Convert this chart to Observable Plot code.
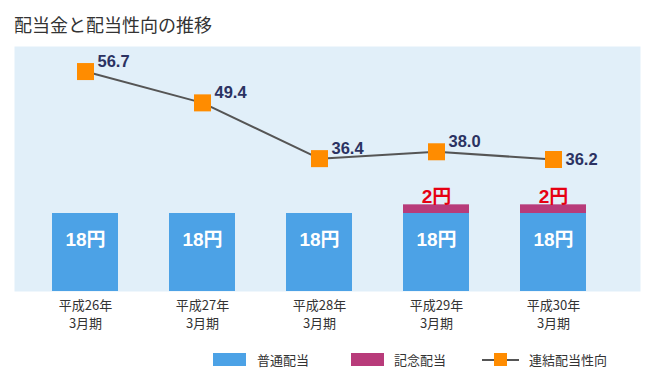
<!DOCTYPE html>
<html>
<head>
<meta charset="utf-8">
<script src="https://cdn.jsdelivr.net/npm/d3@7"></script>
<script src="https://cdn.jsdelivr.net/npm/@observablehq/plot@0.6"></script>
<style>
  body { margin: 0; background: #fff; }
  #wrap { position: relative; width: 660px; height: 390px; font-family: "Liberation Sans", "Noto Sans CJK JP", sans-serif; color: #333; }
  #title { position: absolute; left: 14px; top: 15px; font-family: "Noto Sans CJK JP", sans-serif; font-size: 18px; line-height: 1; color: #333; white-space: nowrap; }
  #chart { position: absolute; left: 0; top: 46px; width: 660px; height: 290px; }
  #chart svg { position: absolute; left: 0; top: 0; }
  .leg { position: absolute; font-family: "Noto Sans CJK JP", sans-serif; font-size: 13px; line-height: 1; color: #333; white-space: nowrap; }
</style>
</head>
<body>
<div id="wrap">
  <div id="title">配当金と配当性向の推移</div>
  <div id="chart"></div>
  <div id="legend"></div>
</div>
<script>
const periods = ["平成26年\n3月期", "平成27年\n3月期", "平成28年\n3月期", "平成29年\n3月期", "平成30年\n3月期"];
const regularDividend = [18, 18, 18, 18, 18];
const commemorativeDividend = [0, 0, 0, 2, 2];
const payoutRatio = [56.7, 49.4, 36.4, 38.0, 36.2];
const seriesNames = ["普通配当", "記念配当", "連結配当性向"];
const colors = ["#4ca2e6", "#b83b7a", "#ff8c00"];

const rows = periods.flatMap((p, i) => [
  {period: p, type: seriesNames[0], value: regularDividend[i]},
  {period: p, type: seriesNames[1], value: commemorativeDividend[i]}
]).filter(d => d.value > 0);
const regRows = periods.map((p, i) => ({period: p, value: regularDividend[i]}));
const comRows = periods.map((p, i) => ({period: p, value: commemorativeDividend[i], total: regularDividend[i] + commemorativeDividend[i]})).filter(d => d.value > 0);
const ratioRows = periods.map((p, i) => ({period: p, value: payoutRatio[i], i}));

const font = "Liberation Sans, Arial, Noto Sans CJK JP, sans-serif";
const xScale = {type: "band", domain: periods, range: [26.5, 611.5], paddingInner: 0.436, paddingOuter: 0.218};
const common = {width: 660, height: 290, marginTop: 0, marginBottom: 45, marginLeft: 14, marginRight: 20};

const barPlot = Plot.plot({
  ...common,
  x: {...xScale, label: null},
  y: {domain: [0, 56.54], axis: null},
  color: {domain: seriesNames.slice(0, 2), range: colors.slice(0, 2)},
  style: {fontFamily: font, background: "transparent", color: "#333"},
  marks: [
    Plot.frame({fill: "#e1eff9", stroke: null}),
    Plot.barY(rows, {x: "period", y: "value", fill: "type"}),
    Plot.text(regRows, {x: "period", y: "value", text: d => d.value + "円", fill: "#fff", fontSize: 19, fontWeight: "bold", fontFamily: font, dy: 26}),
    Plot.text(comRows, {x: "period", y: "total", text: d => d.value + "円", fill: "#e60012", fontSize: 19, fontWeight: "bold", fontFamily: font, dy: -8}),
    Plot.axisX({tickSize: 0, tickPadding: 6, fontSize: 13, lineHeight: 1.35, fill: "#333", fontFamily: "Noto Sans CJK JP, sans-serif", label: null})
  ]
});

const linePlot = Plot.plot({
  ...common,
  x: {...xScale, axis: null},
  y: {domain: [5.43, 62.54], axis: null},
  style: {fontFamily: font, background: "transparent"},
  marks: [
    Plot.line(ratioRows, {x: "period", y: "value", stroke: "#555", strokeWidth: 2}),
    Plot.dot(ratioRows, {x: "period", y: "value", symbol: "square", r: 9.6, fill: colors[2], stroke: null}),
    Plot.text(ratioRows.filter(d => d.i < 4), {x: "period", y: "value", text: d => d.value.toFixed(1), textAnchor: "start", dx: 12, dy: -10, fontSize: 16.5, fontWeight: "bold", fontFamily: font, fill: "#2b3262"}),
    Plot.text(ratioRows.filter(d => d.i === 4), {x: "period", y: "value", text: d => d.value.toFixed(1), textAnchor: "start", dx: 12, dy: 0, fontSize: 16.5, fontWeight: "bold", fontFamily: font, fill: "#2b3262"})
  ]
});

const chart = document.getElementById("chart");
chart.appendChild(barPlot);
chart.appendChild(linePlot);

// legend
const legend = document.getElementById("legend");
function add(html) { legend.insertAdjacentHTML("beforeend", html); }
add(`<div style="position:absolute;left:213px;top:353px;width:33px;height:13px;background:${colors[0]}"></div>`);
add(`<div class="leg" style="left:257px;top:353px">${seriesNames[0]}</div>`);
add(`<div style="position:absolute;left:351px;top:353px;width:33px;height:13px;background:${colors[1]}"></div>`);
add(`<div class="leg" style="left:394px;top:353px">${seriesNames[1]}</div>`);
add(`<div style="position:absolute;left:482px;top:359px;width:37px;height:2px;background:#555"></div>`);
add(`<div style="position:absolute;left:494px;top:353px;width:13px;height:13px;background:${colors[2]}"></div>`);
add(`<div class="leg" style="left:529px;top:353px">${seriesNames[2]}</div>`);
</script>
</body>
</html>
